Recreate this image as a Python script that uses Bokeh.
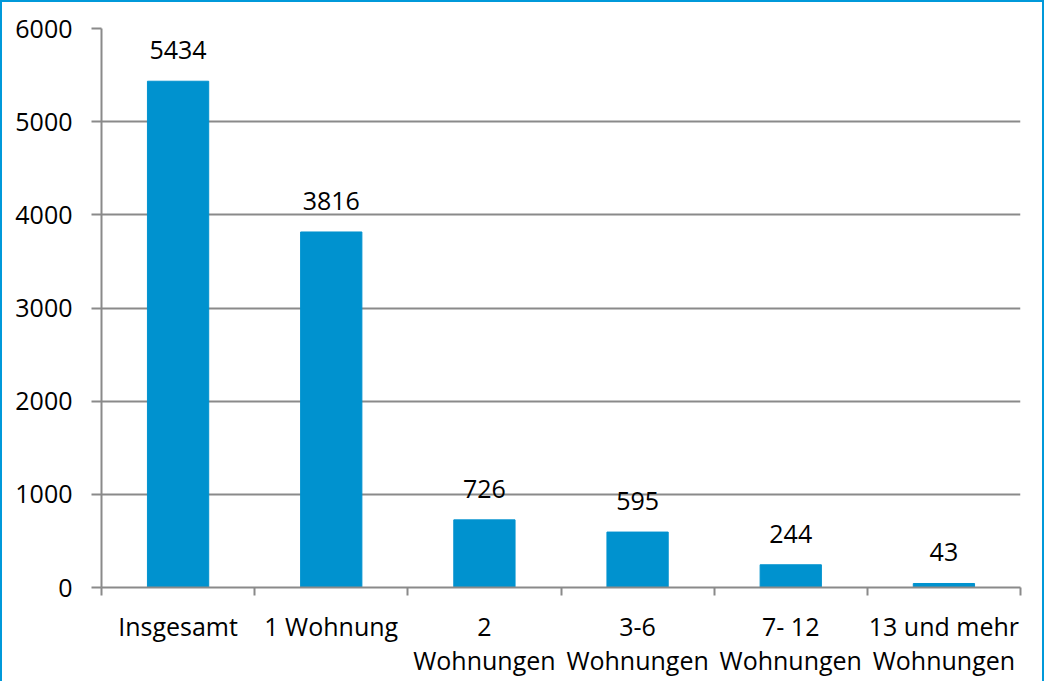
from bokeh.plotting import figure
from bokeh.models import Range1d, FixedTicker, ColumnDataSource, LabelSet
from bokeh.core.properties import value
from bokeh.embed import file_html
from bokeh.resources import INLINE

categories = ["Insgesamt", "1 Wohnung", "2\nWohnungen", "3-6\nWohnungen", "7- 12\nWohnungen", "13 und mehr\nWohnungen"]
values = [5434, 3816, 726, 595, 244, 43]
y_ticks = [0, 1000, 2000, 3000, 4000, 5000, 6000]

BAR = "#0092CF"
BORDER = "#0099DA"
GRID = "#8A8A8A"
FONT = "Open Sans"
FS = "25px"

xs = [i + 0.5 for i in range(len(categories))]
src = ColumnDataSource(dict(x=xs, top=values, lbl=[str(v) for v in values]))

p = figure(width=1044, height=681, output_backend="svg", toolbar_location=None,
           x_range=Range1d(0, len(categories)), y_range=Range1d(0, 6000),
           min_border_left=99, min_border_right=26, min_border_top=26, min_border_bottom=96)
p.styles = {"border-top": f"2px solid {BORDER}", "border-left": f"2px solid {BORDER}",
            "border-right": f"2px solid {BORDER}", "box-sizing": "border-box"}
p.outline_line_color = None
p.background_fill_color = "white"
p.border_fill_color = "white"

p.vbar(x="x", top="top", width=0.4, bottom=0, source=src, color=BAR)

labels = LabelSet(x="x", y="top", text="lbl", source=src, text_align="center",
                  text_baseline="alphabetic", y_offset=22, text_font=value(FONT),
                  text_font_size=FS, text_color="black")
p.add_layout(labels)

p.xgrid.grid_line_color = None
p.ygrid.grid_line_color = GRID
p.ygrid.grid_line_width = 2
p.ygrid.ticker = FixedTicker(ticks=y_ticks)

p.yaxis.ticker = FixedTicker(ticks=y_ticks)
p.yaxis.axis_line_color = GRID
p.yaxis.axis_line_width = 2
p.yaxis.major_tick_line_color = GRID
p.yaxis.major_tick_line_width = 2
p.yaxis.major_tick_out = 10
p.yaxis.major_tick_in = 0
p.yaxis.minor_tick_line_color = None
p.yaxis.major_label_standoff = 19
p.yaxis.major_label_text_font = FONT
p.yaxis.major_label_text_font_size = FS
p.yaxis.major_label_text_color = "black"

p.xaxis.ticker = FixedTicker(ticks=xs, minor_ticks=list(range(len(categories) + 1)))
p.xaxis.major_label_overrides = {x: c for x, c in zip(xs, categories)}
p.xaxis.axis_line_color = GRID
p.xaxis.axis_line_width = 2
p.xaxis.major_tick_line_color = None
p.xaxis.major_tick_out = 8
p.xaxis.minor_tick_line_color = GRID
p.xaxis.minor_tick_line_width = 2
p.xaxis.minor_tick_out = 8
p.xaxis.minor_tick_in = 0
p.xaxis.major_label_standoff = 13
p.xaxis.major_label_text_font = FONT
p.xaxis.major_label_text_font_size = FS
p.xaxis.major_label_text_color = "black"
p.xaxis.major_label_text_line_height = 1.0

open("out.html", "w").write(file_html(p, INLINE))
